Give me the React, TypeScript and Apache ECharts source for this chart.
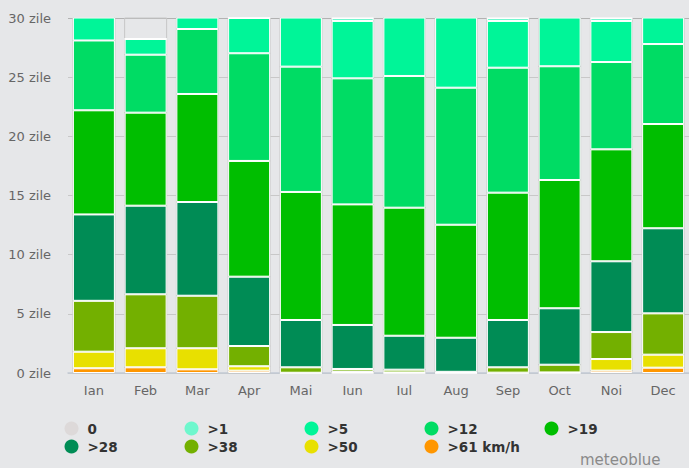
import React, { useEffect, useRef } from "react";
import * as echarts from "echarts";

const months = ["Ian", "Feb", "Mar", "Apr", "Mai", "Iun", "Iul", "Aug", "Sep", "Oct", "Noi", "Dec"];
const yTicks = [0, 5, 10, 15, 20, 25, 30];

const legendNames = ["0", ">1", ">5", ">12", ">19", ">28", ">38", ">50", ">61 km/h"];
const legendColors = ["#ddd9d9", "#6ef7cd", "#00f598", "#00dc64", "#00be00", "#008c55", "#73b000", "#e8e000", "#ff9600"];

const d0 = [0, 0, 0, 0, 0, 0, 0, 0, 0, 0, 0, 0];
const gt1 = [0, 0, 0, 0, 0, 0.25, 0, 0, 0.25, 0, 0.25, 0];
const gt5 = [2.9, 1.33, 1.93, 2.98, 5.11, 4.85, 5.9, 6.89, 3.95, 5.08, 3.47, 3.2];
const gt12 = [5.9, 4.9, 5.49, 9.1, 10.59, 10.65, 11.13, 11.58, 10.56, 9.61, 7.38, 6.76];
const gt19 = [8.8, 7.86, 9.13, 9.78, 10.82, 10.19, 10.82, 9.55, 10.76, 10.84, 9.46, 8.81];
const gt28 = [7.3, 7.49, 7.92, 5.86, 4.0, 3.72, 2.87, 2.88, 4.0, 4.77, 5.98, 7.19];
const gt38 = [4.3, 4.56, 4.44, 1.71, 0.46, 0.22, 0.23, 0.08, 0.45, 0.65, 2.28, 3.49];
const gt50 = [1.4, 1.61, 1.78, 0.37, 0.02, 0.12, 0.05, 0.02, 0.03, 0.05, 0.98, 1.1];
const gt61 = [0.4, 0.48, 0.31, 0.2, 0, 0, 0, 0, 0, 0, 0.2, 0.45];

const seriesData = [d0, gt1, gt5, gt12, gt19, gt28, gt38, gt50, gt61];

export default function App() {
  const ref = useRef<HTMLDivElement>(null);
  useEffect(() => {
    if (!ref.current) return;
    const chart = echarts.init(ref.current, null, { renderer: "svg" });
    // stack from bottom: >61 first
    const order = [8, 7, 6, 5, 4, 3, 2, 1, 0];
    const series = order.map((idx, k) => ({
      name: legendNames[idx],
      type: "bar",
      stack: "days",
      data: seriesData[idx],
      barWidth: 42,
      itemStyle: { color: legendColors[idx], borderColor: "#ffffff", borderWidth: 1 },
      showBackground: k === 0,
      backgroundStyle: { color: "rgba(0,0,0,0)", borderColor: "#c6c6c6", borderWidth: 1 },
      emphasis: { disabled: true },
    }));
    const iconLefts = [64.5, 184.5, 304.5, 424.5, 544.5];
    const legends = legendNames.map((n, i) => ({
      data: [n],
      left: iconLefts[i % 5],
      top: i < 5 ? 421.5 : 439.5,
      padding: 0,
      icon: "circle",
      itemWidth: 14,
      itemHeight: 14,
      selectedMode: false,
      itemStyle: { borderWidth: 0 },
      textStyle: {
        fontFamily: "DejaVu Sans",
        fontWeight: "bold",
        fontSize: 13.5,
        color: "#333333",
        padding: [0, 0, 0, 4],
      },
    }));
    chart.setOption({
      animation: false,
      backgroundColor: "#e6e7e9",
      grid: { left: 68, width: 623, top: 18, bottom: 95 },
      legend: legends,
      xAxis: {
        type: "category",
        data: months,
        axisTick: { show: false },
        axisLine: { lineStyle: { color: "#c2cad4", width: 1.5 } },
        axisLabel: { color: "#666666", fontSize: 13, fontFamily: "DejaVu Sans", margin: 11 },
      },
      yAxis: {
        type: "value",
        min: yTicks[0],
        max: yTicks[yTicks.length - 1],
        interval: 5,
        axisLine: { show: false },
        axisTick: { show: false },
        axisLabel: {
          color: "#666666",
          fontSize: 13,
          fontFamily: "DejaVu Sans",
          margin: 17,
          formatter: (v: number) => `${v} zile`,
        },
        splitLine: {
          lineStyle: {
            color: ["#c8c8c8", "#c8c8c8", "#c8c8c8", "#c8c8c8", "#c8c8c8", "#c8c8c8", "#b2b2b2"],
            width: 1,
          },
        },
      },
      graphic: [
        {
          type: "text",
          left: 580,
          top: 452,
          style: { text: "meteoblue", fill: "#8a8a8a", font: "15px 'DejaVu Sans'" },
        },
      ],
      series,
    });
    return () => chart.dispose();
  }, []);
  return (
    <div
      ref={ref}
      style={{ position: "fixed", left: 0, top: 0, width: 689, height: 468, background: "#e6e7e9" }}
    />
  );
}
